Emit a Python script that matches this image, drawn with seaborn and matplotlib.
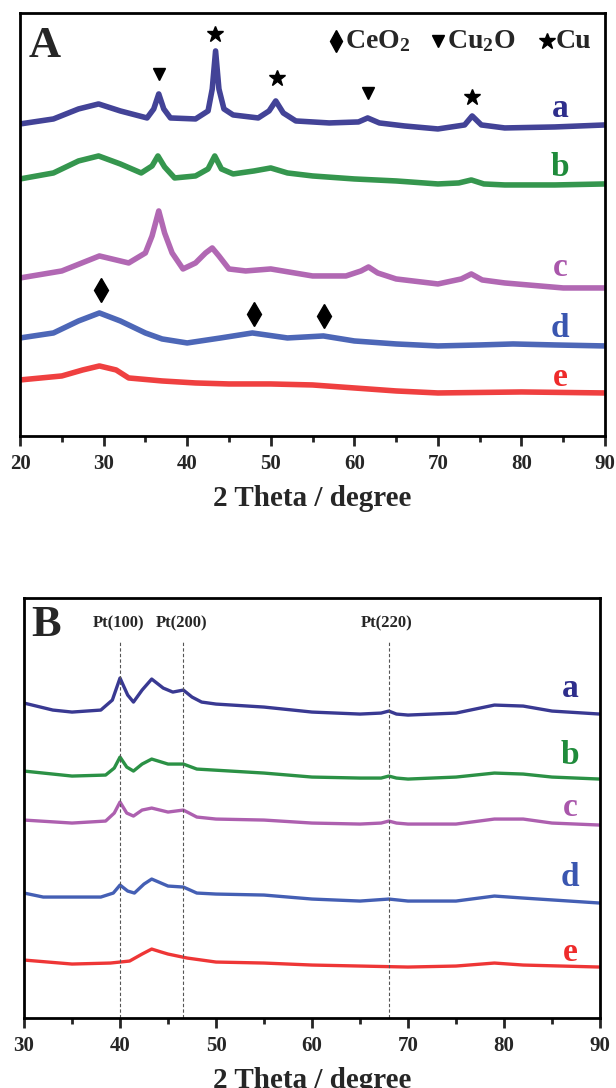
import pandas as pd
import matplotlib
matplotlib.use("Agg")
import matplotlib.pyplot as plt
from matplotlib.ticker import MultipleLocator
import seaborn as sns

sns.set_theme(style="ticks")
plt.rcParams["font.family"] = ["Liberation Serif", "DejaVu Serif"]
plt.rcParams["font.weight"] = "bold"
plt.rcParams["mathtext.fontset"] = "custom"
plt.rcParams["mathtext.rm"] = "Liberation Serif:bold"
plt.rcParams["mathtext.it"] = "Liberation Serif:bold"
plt.rcParams["mathtext.bf"] = "Liberation Serif:bold"

# ---- panel A: XRD of CuO/CeO2 samples (intensity offset, arb. units)
a_x = [20, 24, 27, 29.4, 32, 35.2, 36.0, 36.6, 37.2, 38.0, 41.0, 42.5, 43.0, 43.4, 43.8, 44.4, 45.5,
       48.5, 49.8, 50.6, 51.5, 53, 57, 60.5, 61.6, 63, 66, 70, 73.2, 74.1, 75.2, 78, 84, 90]
a_y = [312, 317, 327, 332, 325, 318, 327, 342, 327, 318, 317, 325, 347, 385, 347, 327, 321,
       318, 325, 335, 323, 315, 313, 314, 318, 313, 310, 307, 311, 320, 311, 308, 309, 311]
b_x = [20, 24, 27, 29.4, 32, 34.5, 35.8, 36.5, 37.3, 38.5, 41, 42.5, 43.3, 44.1, 45.5, 48, 50, 52,
       55, 60, 65, 70, 72.5, 74, 75.5, 78, 84, 90]
b_y = [257, 263, 275, 280, 272, 263, 270, 280, 269, 258, 260, 267, 280, 267, 262, 265, 268, 263,
       260, 257, 255, 252, 253, 256, 252, 251, 251, 252]
c_x = [20, 25, 29.5, 33, 35.0, 35.8, 36.6, 37.3, 38.2, 39.5, 41, 42.2, 43, 43.8, 45, 47, 50, 55,
       59, 60.8, 61.7, 62.8, 65, 70, 72.8, 74, 75.3, 78, 85, 90]
c_y = [158, 165, 180, 173, 183, 200, 225, 203, 183, 167, 173, 183, 188, 180, 167, 165, 167, 160,
       160, 165, 169, 163, 157, 152, 157, 162, 156, 153, 148, 148]
d_x = [20, 24, 27, 29.5, 32, 35, 37, 40, 44, 47.8, 52, 56.3, 60, 65, 70, 75, 79, 84, 90]
d_y = [98, 103, 115, 123, 115, 103, 97, 93, 98, 103, 98, 100, 95, 92, 90, 91, 92, 91, 90]
e_x = [20, 25, 27.5, 29.5, 31.5, 33, 37, 41, 45, 50, 55, 60, 65, 70, 80, 90]
e_y = [56, 60, 66, 70, 66, 58, 55, 53, 52, 52, 51, 48, 45, 43, 44, 43]

# phase markers above peaks
ceo2_x = [29.7, 48.0, 56.4]
ceo2_y = [146, 122, 120]
cu2o_x = [36.6, 61.6]
cu2o_y = [362, 343]
cu_x = [43.3, 50.7, 74.1]
cu_y = [402, 358, 339]

# ---- panel B: Pt loaded samples
pa_x = [30, 33, 35, 38, 39.2, 40.0, 40.8, 41.4, 42.3, 43.3, 44.5, 45.5, 46.6, 47.5, 48.5, 50, 55,
        60, 65, 67.2, 68, 68.8, 70, 75, 77, 79, 82, 85, 90]
pa_y = [337, 330, 328, 330, 340, 362, 345, 338, 350, 361, 352, 348, 350, 343, 338, 336, 333,
        328, 326, 327, 329, 326, 325, 327, 331, 335, 334, 329, 326]
pb_x = [30, 35, 38.5, 39.4, 40.0, 40.7, 41.4, 42.3, 43.3, 45, 46.6, 48, 55, 60, 65, 67.2, 68,
        68.8, 70, 75, 79, 82, 85, 90]
pb_y = [269, 264, 265, 272, 283, 273, 269, 276, 281, 276, 276, 271, 267, 263, 262, 262, 264,
        262, 261, 263, 267, 266, 263, 261]
pc_x = [30, 35, 38.5, 39.4, 40.0, 40.7, 41.4, 42.3, 43.3, 45, 46.6, 48, 50, 55, 60, 65, 67.2, 68,
        68.8, 70, 75, 79, 82, 85, 90]
pc_y = [220, 217, 219, 227, 238, 227, 224, 230, 232, 228, 230, 223, 221, 220, 217, 216, 217, 219,
        217, 216, 216, 221, 221, 217, 215]
pd_x = [30, 32, 38, 39.3, 40.0, 40.8, 41.5, 42.5, 43.3, 45, 46.6, 48, 50, 55, 60, 65, 68, 70, 75,
        79, 82, 90]
pd_y = [147, 143, 143, 147, 155, 149, 147, 156, 161, 154, 153, 147, 146, 145, 141, 139, 141, 139,
        139, 144, 142, 137]
pe_x = [30, 35, 39, 41, 42.3, 43.3, 44.3, 45, 47, 50, 55, 60, 65, 70, 75, 79, 82, 90]
pe_y = [80, 76, 77, 79, 86, 91, 88, 86, 82, 78, 77, 75, 74, 73, 74, 77, 75, 73]

pt_x = [40.0, 46.6, 68.0]
pt_labels = ["Pt(100)", "Pt(200)", "Pt(220)"]

samples = ["a", "b", "c", "d", "e"]
colors = ["#2e2e8c", "#1f8b3b", "#a957ab", "#3a56b0", "#ee2b2b"]
label_y_A = [327, 268, 168, 107, 58]
label_y_B = [352, 285, 233, 163, 88]


def style_axes(ax, xmin, xmax, ymin, ymax):
    ax.set_xlim(xmin, xmax)
    ax.set_ylim(ymin, ymax)
    ax.set_yticks([])
    ax.xaxis.set_major_locator(MultipleLocator(10))
    ax.xaxis.set_minor_locator(MultipleLocator(5))
    ax.tick_params(axis="x", which="major", direction="out", length=7, width=2,
                   labelsize=15, pad=6)
    ax.tick_params(axis="x", which="minor", direction="out", length=4.5, width=2)
    for lab in ax.get_xticklabels():
        lab.set_fontweight("bold")
    for s in ax.spines.values():
        s.set_linewidth(2)
        s.set_color("black")
    ax.set_xlabel("2 Theta / degree", fontsize=21, fontweight="bold", labelpad=8)
    ax.set_ylabel("")


fig = plt.figure(figsize=(6.16, 10.88), dpi=100)
axA = fig.add_axes([0.0325, 0.5993, 0.9497, 0.3888])
axB = fig.add_axes([0.039, 0.0643, 0.935, 0.386])

# panel A curves
for xs, ys, col in zip([a_x, b_x, c_x, d_x, e_x], [a_y, b_y, c_y, d_y, e_y], colors):
    sns.lineplot(x=xs, y=ys, color=col, linewidth=4.0, alpha=0.9, ax=axA)
for name, col, yy in zip(samples, colors, label_y_A):
    axA.text(84.6, yy, name, color=col, fontsize=24, fontweight="bold", ha="center", va="center")

axA.plot(ceo2_x, ceo2_y, ls="none", marker="d", ms=12, color="black")
axA.plot(cu2o_x, cu2o_y, ls="none", marker="v", ms=8.5, color="black")
axA.plot(cu_x, cu_y, ls="none", marker="*", ms=12, color="black")

# phase key in the top right corner
key = [("d", 11, "CeO$_2$", 0.540), ("v", 8.5, "Cu$_2$O", 0.715), ("*", 12, "Cu", 0.900)]
for mk, ms, txt, kx in key:
    axA.plot([kx], [0.933], ls="none", marker=mk, ms=ms, color="black", transform=axA.transAxes)
    axA.text(kx + 0.015, 0.933, txt, fontsize=20, fontweight="bold", ha="left", va="center",
             transform=axA.transAxes)
axA.text(0.015, 0.922, "A", fontsize=32, fontweight="bold", ha="left", va="center",
         transform=axA.transAxes)
style_axes(axA, 20, 90, 0, 423)

# panel B curves
for xs, ys, col in zip([pa_x, pb_x, pc_x, pd_x, pe_x], [pa_y, pb_y, pc_y, pd_y, pe_y], colors):
    sns.lineplot(x=xs, y=ys, color=col, linewidth=2.4, alpha=0.95, ax=axB)
for name, col, yy in zip(samples, colors, label_y_B):
    axB.text(86.9, yy, name, color=col, fontsize=24, fontweight="bold", ha="center", va="center")
axB.vlines(pt_x, 0, 398, colors="#555555", linestyles=(0, (3, 2)), linewidth=0.8)
for px, lab in zip(pt_x, pt_labels):
    axB.text(px - 0.2, 417, lab, fontsize=12, fontweight="bold", ha="center", va="center")
axB.text(0.012, 0.936, "B", fontsize=32, fontweight="bold", ha="left", va="center",
         transform=axB.transAxes)
style_axes(axB, 30, 90, 22, 442)

fig.savefig("out.png", dpi=100)
